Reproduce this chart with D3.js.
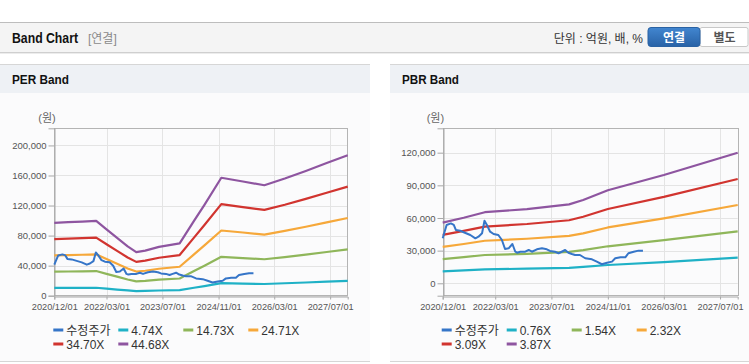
<!DOCTYPE html>
<html><head><meta charset="utf-8">
<script src="https://cdn.jsdelivr.net/npm/d3@7"></script>
<style>
body{margin:0;background:#fff;font-family:"Liberation Sans","Noto Sans CJK KR",sans-serif;}
svg{display:block}
</style></head><body>
<svg id="c" width="749" height="364"></svg>
<script>
// ---------- DATA ----------
const tickDates = ["2020-12-01","2022-03-01","2023-07-01","2024-11-01","2026-03-01","2027-07-01"];
const tickLabels = ["2020/12/01","2022/03/01","2023/07/01","2024/11/01","2026/03/01","2027/07/01"];

const priceDates = ["2020-12-01","2021-01-04","2021-02-10","2021-03-07","2021-03-25","2021-05-01","2021-07-28","2021-09-10","2021-10-07","2021-11-07","2021-11-28","2021-12-19","2022-01-16","2022-02-15","2022-03-28","2022-04-28","2022-05-25","2022-06-25","2022-07-28","2022-08-22","2022-09-07","2022-10-04","2022-11-16","2022-12-16","2023-01-13","2023-02-25","2023-04-10","2023-05-22","2023-06-19","2023-08-01","2023-09-01","2023-09-28","2023-10-28","2023-11-25","2023-12-25","2024-01-22","2024-03-04","2024-04-19","2024-06-16","2024-07-28","2024-09-10","2024-10-25","2024-12-07","2025-01-04","2025-02-19","2025-04-01","2025-04-28","2025-06-13","2025-07-25","2025-09-01"];
const priceValues = [41300,53600,55000,53600,49000,48300,44400,41300,42800,46000,57500,53600,47400,45300,44400,39800,31500,32100,36100,29000,28100,29000,29000,30600,29000,31200,32100,31200,29700,29000,27600,29000,30600,28100,26900,26000,26000,23000,22000,19900,17500,18900,19900,23000,23900,23900,27600,29000,30000,30000];

const perLabels = ["4.74X","14.73X","24.71X","34.70X","44.68X"];
const perDates = ["2020-12-01","2021-04-01","2021-08-01","2021-12-01","2022-03-01","2022-06-01","2022-09-01","2022-11-15","2023-02-01","2023-06-01","2023-11-28","2024-04-01","2024-07-01","2024-11-25","2025-06-01","2025-12-05","2026-06-01","2026-12-01","2027-06-01","2027-12-01"];
const per474  = [10300,10400,10500,10600,9400,8200,7000,6200,6400,6900,7400,10600,12800,16700,16100,15600,16600,17600,18700,19800];
const per1473 = [32000,32200,32500,32800,29100,25400,21600,19100,19800,21400,22900,32800,39900,51800,50100,48500,51400,54700,58200,61700];
const per2471 = [53600,54100,54500,55000,48800,42500,36300,32100,33200,35900,38500,55000,66900,86800,84100,81300,86300,91800,97600,103400];
const per3470 = [75300,75900,76500,77300,68500,59700,50900,45000,46600,50500,54100,77300,94000,121900,118000,114200,121100,128900,137100,145200];
const per4468 = [97000,97800,98500,99500,88200,76900,65600,58000,60000,65000,69600,99500,121000,157000,152000,147000,156000,166000,176500,187000];
const perTicks = [0,40000,80000,120000,160000,200000];

const pbrLabels = ["0.76X","1.54X","2.32X","3.09X","3.87X"];
const pbrDates = ["2020-12-01","2021-06-01","2021-12-01","2022-12-01","2023-12-01","2024-04-01","2024-11-01","2026-03-01","2027-12-01"];
const pbr076 = [10900,11800,12800,13400,14200,15000,16800,19500,23600];
const pbr154 = [22200,24000,26000,27100,28800,30400,34000,39600,47700];
const pbr232 = [33400,36100,39100,40900,43500,45900,51300,59600,71900];
const pbr309 = [44500,48100,52100,54500,57900,61100,68300,79400,95800];
const pbr387 = [55700,60200,65300,68200,72500,76500,85500,99500,120000];
const pbrTicks = [0,30000,60000,90000,120000];

const priceLabel = "수정주가";
const bandColors = ["#1fb1c6","#8fb65a","#f6a83a","#d1342f","#8e55a0"];
const priceColor = "#3575c8";

// ---------- DRAW ----------
const svg = d3.select("#c");
const parse = d3.timeParse("%Y-%m-%d");
const fmt = d3.format(",");

// top header
svg.append("rect").attr("x",0).attr("y",22).attr("width",749).attr("height",31).attr("fill","#f4f4f4");
svg.append("line").attr("x1",0).attr("x2",749).attr("y1",22.5).attr("y2",22.5).attr("stroke","#bdbdbd");
svg.append("line").attr("x1",0).attr("x2",749).attr("y1",52.5).attr("y2",52.5).attr("stroke","#cfcfcf");
svg.append("line").attr("x1",0).attr("x2",749).attr("y1",53.5).attr("y2",53.5).attr("stroke","#ececec");
svg.append("text").attr("x",12).attr("y",43).attr("font-size",14).attr("font-weight","bold").attr("fill","#111")
  .attr("textLength",66).attr("lengthAdjust","spacingAndGlyphs").text("Band Chart");
svg.append("text").attr("x",88).attr("y",42.5).attr("font-size",12).attr("fill","#8a8a8a").text("[연결]");
svg.append("text").attr("x",643).attr("y",42.5).attr("font-size",12).attr("fill","#333").attr("text-anchor","end").text("단위 : 억원, 배, %");
const grad = svg.append("defs").append("linearGradient").attr("id","bg1").attr("x1",0).attr("x2",0).attr("y1",0).attr("y2",1);
grad.append("stop").attr("offset","0").attr("stop-color","#4286d0");
grad.append("stop").attr("offset","1").attr("stop-color","#2862a6");
svg.append("rect").attr("x",700).attr("y",27.5).attr("width",48).attr("height",19).attr("fill","#fff").attr("stroke","#c8c8c8").attr("rx",2);
svg.append("rect").attr("x",648).attr("y",27.5).attr("width",52).attr("height",19).attr("fill","url(#bg1)").attr("stroke","#2a62a3").attr("rx",3);
svg.append("text").attr("x",674).attr("y",42).attr("font-size",12).attr("font-weight","bold").attr("fill","#fff").attr("text-anchor","middle").text("연결");
svg.append("text").attr("x",724.5).attr("y",42).attr("font-size",12).attr("font-weight","bold").attr("fill","#555").attr("text-anchor","middle").text("별도");

function panel(cfg){
  const g = svg.append("g");
  g.append("rect").attr("x",cfg.px).attr("y",64).attr("width",cfg.pw).attr("height",298).attr("fill","#fbfbfc");
  g.append("rect").attr("x",cfg.px).attr("y",64).attr("width",cfg.pw).attr("height",29).attr("fill","#eef1f5");
  g.append("line").attr("x1",cfg.px).attr("x2",cfg.px+cfg.pw).attr("y1",64.5).attr("y2",64.5).attr("stroke","#d6d6d6");
  g.append("line").attr("x1",cfg.px).attr("x2",cfg.px+cfg.pw).attr("y1",361.5).attr("y2",361.5).attr("stroke","#d6d6d6");
  g.append("text").attr("x",cfg.px+12).attr("y",84).attr("font-size",13.5).attr("font-weight","bold").attr("fill","#111")
    .attr("textLength",57).attr("lengthAdjust","spacingAndGlyphs").text(cfg.title);

  const x = d3.scaleTime().domain([parse("2020-12-01"),parse("2027-12-01")]).range([cfg.l,cfg.r]);
  const y = d3.scaleLinear().domain(cfg.ydom).range([295.7,128.3]);
  const T=128.3, B=295.7;

  // grid
  g.append("g").selectAll("line").data(cfg.yticks).join("line")
    .attr("x1",cfg.l).attr("x2",cfg.r).attr("y1",d=>Math.round(y(d))+0.5).attr("y2",d=>Math.round(y(d))+0.5)
    .attr("stroke","#e4e4e4");
  g.append("g").selectAll("line").data(tickDates).join("line")
    .attr("x1",d=>Math.round(x(parse(d)))+0.5).attr("x2",d=>Math.round(x(parse(d)))+0.5).attr("y1",T).attr("y2",B)
    .attr("stroke","#e4e4e4");
  // frame
  g.append("rect").attr("x",Math.round(cfg.l)+0.5).attr("y",Math.round(T)+0.5).attr("width",Math.round(cfg.r-cfg.l)).attr("height",Math.round(B-T))
    .attr("fill","none").attr("stroke","#b4b4b4");

  // axes
  const ya = g.append("g").attr("transform",`translate(${Math.round(cfg.l)+0.5},0)`)
    .call(d3.axisLeft(y).tickValues(cfg.yticks).tickFormat(fmt).tickSize(6).tickPadding(2));
  ya.select(".domain").attr("stroke","#a8a8a8");
  ya.selectAll(".tick line").attr("stroke","#a8a8a8");
  ya.selectAll("text").attr("font-size",9.5).attr("fill","#555").attr("font-family","'Liberation Sans',sans-serif");
  const xa = g.append("g").attr("transform",`translate(0,${Math.round(B)+0.5})`)
    .call(d3.axisBottom(x).tickValues(tickDates.map(parse)).tickFormat((d,i)=>tickLabels[i]).tickSize(3).tickPadding(4));
  xa.select(".domain").attr("stroke","#a8a8a8");
  xa.selectAll(".tick line").attr("stroke","#a8a8a8");
  xa.selectAll("text").attr("font-size",9.2).attr("fill","#555").attr("font-family","'Liberation Sans',sans-serif");

  g.append("text").attr("x",cfg.l-16).attr("y",122).attr("font-size",11).attr("fill","#666").text("(원)");

  // lines
  const line = d3.line().x(d=>x(d[0])).y(d=>y(d[1]));
  const bd = cfg.dates.map(parse);
  cfg.bands.forEach((vals,i)=>{
    g.append("path").datum(bd.map((d,j)=>[d,vals[j]])).attr("d",line)
      .attr("fill","none").attr("stroke",bandColors[i]).attr("stroke-width",2.2).attr("stroke-linejoin","round");
  });
  const pd = priceDates.map(parse);
  g.append("path").datum(pd.map((d,j)=>[d,priceValues[j]])).attr("d",line)
    .attr("fill","none").attr("stroke",priceColor).attr("stroke-width",2).attr("stroke-linejoin","round");

  // legend
  const items = [{t:priceLabel,c:priceColor}].concat(cfg.labels.map((t,i)=>({t:t,c:bandColors[i]})));
  items.forEach((it,i)=>{
    const col = i%4, row = Math.floor(i/4);
    const lx = cfg.l - 1 + col*65, ly = 330 + row*14;
    g.append("line").attr("x1",lx).attr("x2",lx+10).attr("y1",ly).attr("y2",ly).attr("stroke",it.c).attr("stroke-width",3);
    g.append("text").attr("x",lx+13).attr("y",ly+4.5).attr("font-size",12).attr("fill","#333").text(it.t);
  });
}

panel({px:0,pw:370,title:"PER Band",l:54.3,r:347.7,ydom:[0,222800],yticks:perTicks,dates:perDates,
  bands:[per474,per1473,per2471,per3470,per4468],labels:perLabels});
panel({px:390,pw:359,title:"PBR Band",l:442.7,r:737.7,ydom:[-11400,142400],yticks:pbrTicks,dates:pbrDates,
  bands:[pbr076,pbr154,pbr232,pbr309,pbr387],labels:pbrLabels});
</script>
</body></html>
